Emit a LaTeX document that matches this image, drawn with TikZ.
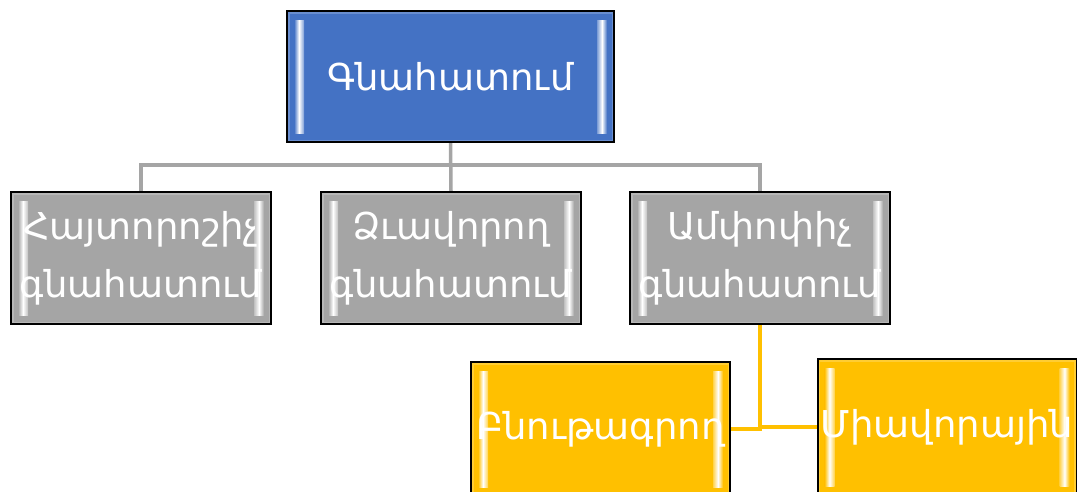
\documentclass[tikz,border=0pt]{standalone}
\usepackage{fontspec}
\setmainfont{DejaVu Sans}
\usetikzlibrary{backgrounds,calc}
\definecolor{cblue}{HTML}{4472C4}
\definecolor{cgrey}{HTML}{A5A5A5}
\definecolor{cgold}{HTML}{FFC000}
\tikzset{
 bevel/.style={path picture={
   \draw[line width=5pt, #1!80!white] (path picture bounding box.north west) rectangle (path picture bounding box.south east);
   \shade[left color=#1, right color=#1!70!white, middle color=white]
     ([xshift=7pt,yshift=-9pt]path picture bounding box.north west) rectangle ([xshift=17pt,yshift=9pt]path picture bounding box.south west);
   \shade[left color=#1!70!white, right color=#1, middle color=white]
     ([xshift=-17pt,yshift=-9pt]path picture bounding box.north east) rectangle ([xshift=-7pt,yshift=9pt]path picture bounding box.south east);
 }},
 box/.style={draw=black, line width=2pt, text=white, align=center,
   font=\fontsize{37}{58}\selectfont, inner sep=0pt},
 bluebox/.style={box, fill=cblue, bevel=cblue, minimum width=327pt, minimum height=131pt},
 greybox/.style={box, fill=cgrey, bevel=cgrey, minimum width=260pt, minimum height=132pt},
 goldbox/.style={box, fill=cgold, bevel=cgold, minimum width=259pt},
 gline/.style={draw=cgrey, line width=3.5pt},
 yline/.style={draw=cgold, line width=3.5pt},
}
\begin{document}
\begin{tikzpicture}[x=1pt,y=-1pt]
\useasboundingbox (0,0) rectangle (1077,491);
\clip (0,0) rectangle (1077,491);
\node[bluebox] (top) at (450.5,76.5) {Գնահատում};
\node[greybox] (g1) at (141,258) {Հայտորոշիչ\\գնահատում};
\node[greybox] (g2) at (451,258) {Ձւավորող\\գնահատում};
\node[greybox] (g3) at (760,258) {Ամփոփիչ\\գնահատում};
\node[goldbox, minimum height=134pt] (y1) at (600.5,429) {Բնութագրող};
\node[goldbox, minimum height=136pt] (y2) at (947,427) {Միավորային};
\begin{pgfonlayer}{background}
\draw[gline] (top.south) -- (g2.north);
\draw[gline] (g1.north) -- ([yshift=26pt]g1.north) -| (g3.north);
\draw[yline] (g3.south) |- (y1.east);
\draw[yline] (g3.south) |- (y2.west);
\end{pgfonlayer}
\end{tikzpicture}
\end{document}
